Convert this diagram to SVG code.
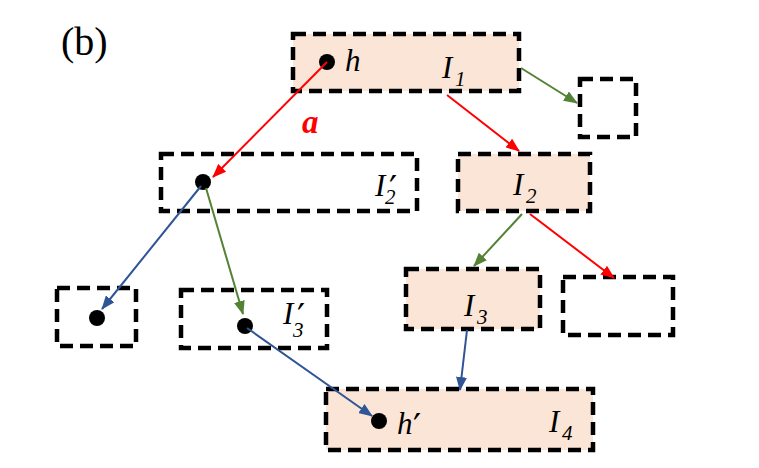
<svg xmlns="http://www.w3.org/2000/svg" width="759" height="468" viewBox="0 0 759 468">
<style>
.box{stroke:#000;stroke-width:4.5;stroke-dasharray:13 7;}
.f{fill:#FBE5D6;}
.e{fill:#fff;}
.dot{fill:#000;}
.t{font-family:"Liberation Serif",serif;font-style:italic;font-size:31px;fill:#000;}
.s{font-family:"Liberation Serif",serif;font-style:italic;font-size:21px;fill:#000;}
.p{font-family:"DejaVu Sans",sans-serif;font-size:36px;fill:#000;}
.c{fill:none;stroke-width:2;}
.r{stroke:#FF0000;}
.g{stroke:#548235;}
.b{stroke:#2F5597;}
</style>
<defs>
<marker id="ar" viewBox="0 0 14 11" refX="13" refY="5.5" markerWidth="14" markerHeight="11" markerUnits="userSpaceOnUse" orient="auto"><path d="M0,0L14,5.5L0,11z" fill="#FF0000"/></marker>
<marker id="ag" viewBox="0 0 14 11" refX="13" refY="5.5" markerWidth="14" markerHeight="11" markerUnits="userSpaceOnUse" orient="auto"><path d="M0,0L14,5.5L0,11z" fill="#548235"/></marker>
<marker id="ab" viewBox="0 0 14 11" refX="13" refY="5.5" markerWidth="14" markerHeight="11" markerUnits="userSpaceOnUse" orient="auto"><path d="M0,0L14,5.5L0,11z" fill="#2F5597"/></marker>
</defs>
<rect width="759" height="468" fill="#fff"/>
<text x="61" y="55" font-family="Liberation Serif,serif" font-size="40">(b)</text>

<g id="I1">
<rect class="box f" x="293" y="34" width="226" height="57"/>
<circle class="dot" cx="327" cy="62" r="8"/>
<text class="t" x="345" y="71">h</text>
<text class="t" x="442" y="78">I</text>
<text class="s" x="455" y="86">1</text>
</g>
<g id="R1">
<rect class="box e" x="580" y="79" width="56" height="58"/>
</g>
<g id="I2p">
<rect class="box e" x="161" y="154" width="256" height="57"/>
<circle class="dot" cx="203" cy="182" r="8"/>
<text class="t" x="375" y="196">I</text>
<text class="p" x="389" y="201">′</text>
<text class="s" x="385" y="204">2</text>
</g>
<g id="I2">
<rect class="box f" x="458" y="154" width="132" height="57"/>
<text class="t" x="513" y="195">I</text>
<text class="s" x="526" y="203">2</text>
</g>
<g id="L1">
<rect class="box e" x="57" y="288" width="79" height="58"/>
<circle class="dot" cx="97" cy="318" r="8"/>
</g>
<g id="I3p">
<rect class="box e" x="181" y="290" width="146" height="58"/>
<circle class="dot" cx="245" cy="326" r="8"/>
<text class="t" x="283" y="324">I</text>
<text class="p" x="297" y="329">′</text>
<text class="s" x="293" y="337">3</text>
</g>
<g id="I3">
<rect class="box f" x="406" y="269" width="134" height="60"/>
<text class="t" x="464" y="316">I</text>
<text class="s" x="477" y="324">3</text>
</g>
<g id="R2">
<rect class="box e" x="563" y="277" width="110" height="58"/>
</g>
<g id="I4">
<rect class="box f" x="326" y="389" width="267" height="61"/>
<circle class="dot" cx="379" cy="421" r="8"/>
<text class="t" x="397" y="434">h</text>
<text class="p" x="413" y="439">′</text>
<text class="t" x="549" y="432">I</text>
<text class="s" x="562" y="440">4</text>
</g>

<g id="connectors">
<line class="c r" x1="327" y1="62" x2="213" y2="177" marker-end="url(#ar)"/>
<line class="c r" x1="447" y1="95" x2="519" y2="151" marker-end="url(#ar)"/>
<line class="c g" x1="521" y1="68" x2="577" y2="103" marker-end="url(#ag)"/>
<line class="c b" x1="201" y1="186" x2="102" y2="309" marker-end="url(#ab)"/>
<line class="c g" x1="206" y1="188" x2="243" y2="314" marker-end="url(#ag)"/>
<line class="c g" x1="522" y1="214" x2="474" y2="266" marker-end="url(#ag)"/>
<line class="c r" x1="530" y1="214" x2="614" y2="278" marker-end="url(#ar)"/>
<line class="c b" x1="467" y1="330" x2="460" y2="390" marker-end="url(#ab)"/>
<line class="c b" x1="247" y1="328" x2="372" y2="416" marker-end="url(#ab)"/>
<text x="302" y="133" font-family="Liberation Serif,serif" font-style="italic" font-weight="bold" font-size="33" fill="#FF0000">a</text>
</g>
</svg>
